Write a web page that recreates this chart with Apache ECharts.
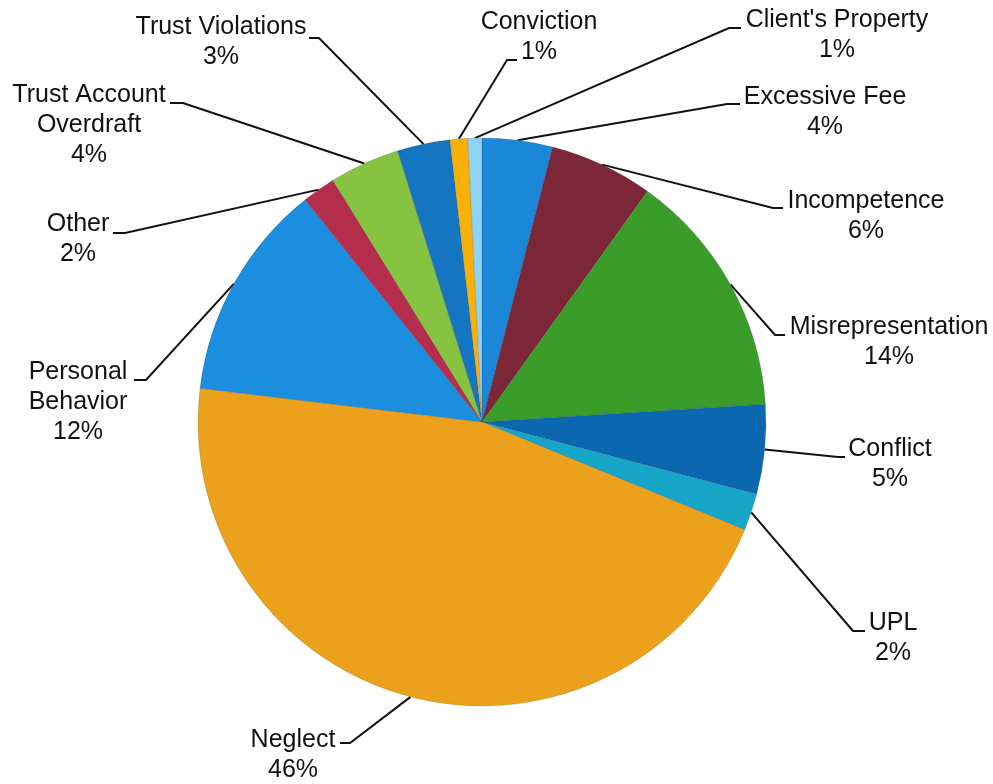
<!DOCTYPE html>
<html>
<head>
<meta charset="utf-8">
<script src="https://cdn.jsdelivr.net/npm/echarts@6/dist/echarts.min.js"></script>
<style>
html,body{margin:0;padding:0;background:#fff;}
#chart{width:993px;height:784px;}
</style>
</head>
<body>
<div id="chart"></div>
<script>
// Categories in clockwise order starting at 12 o'clock
var categories = ["Excessive Fee", "Incompetence", "Misrepresentation", "Conflict", "UPL", "Neglect",
  "Personal Behavior", "Other", "Trust Account Overdraft", "Trust Violations", "Conviction", "Client's Property"];
// Share of complaints (percent)
var shares = [4.0, 5.9, 14.1, 5.1, 2.1, 45.7, 12.4, 1.9, 4.0, 3.0, 1.0, 0.8];
// Label text lines as displayed
var labelNames = ["Excessive Fee", "Incompetence", "Misrepresentation", "Conflict", "UPL", "Neglect",
  "Personal\nBehavior", "Other", "Trust Account\nOverdraft", "Trust Violations", "Conviction", "Client's Property"];
var colors = ["#1a87d8", "#7b2738", "#3a9d2a", "#0b68b0", "#17a5c8", "#eba11b",
  "#1b8ee0", "#b52d4c", "#86c340", "#1476c2", "#f9b10a", "#8fd3f3"];

// Label layout: block centre (cx, cy) and leader-line end (ex, ey) with elbow offset (dx)
var labelLayoutSpec = [
  {cx: 825, cy: 112, ex: 740, ey: 104, dx: -13},
  {cx: 866, cy: 216, ex: 783, ey: 208, dx: -10},
  {cx: 889, cy: 342, ex: 785, ey: 335, dx: -10},
  {cx: 890, cy: 464, ex: 845, ey: 457, dx: -7},
  {cx: 893, cy: 638, ex: 865, ey: 631, dx: -12},
  {cx: 293, cy: 755, ex: 340, ey: 743, dx: 10},
  {cx: 78,  cy: 402, ex: 134, ey: 380, dx: 12},
  {cx: 78,  cy: 239, ex: 113, ey: 233, dx: 12},
  {cx: 89,  cy: 125, ex: 170, ey: 103, dx: 13},
  {cx: 221, cy: 42,  ex: 309, ey: 38,  dx: 10},
  {cx: 539, cy: 37,  ex: 517, ey: 60,  dx: -10},
  {cx: 837, cy: 35,  ex: 741, ey: 28,  dx: -12}
];

var data = categories.map(function (c, i) {
  return {name: c, value: shares[i], itemStyle: {color: colors[i]}};
});

var chart = echarts.init(document.getElementById('chart'), null, {renderer: 'canvas'});
chart.setOption({
  backgroundColor: '#ffffff',
  animation: false,
  series: [{
    type: 'pie',
    center: [482, 422],
    radius: 284,
    startAngle: 90,
    clockwise: true,
    avoidLabelOverlap: false,
    data: data,
    itemStyle: {borderColor: 'rgba(40,40,40,0.3)', borderWidth: 0.5},
    label: {
      show: true,
      position: 'outside',
      color: '#111',
      fontFamily: '"Liberation Sans", Arial, sans-serif',
      fontSize: 25,
      lineHeight: 30,
      formatter: function (p) {
        return labelNames[p.dataIndex] + '\n' + Math.round(p.percent) + '%';
      }
    },
    labelLine: {
      show: true,
      length: 20,
      length2: 20,
      smooth: false,
      lineStyle: {color: '#111', width: 2}
    },
    labelLayout: function (params) {
      var s = labelLayoutSpec[params.dataIndex];
      var pts = params.labelLinePoints;
      var start = pts && pts[0] ? pts[0] : [482, 422];
      return {
        x: s.cx,
        y: s.cy,
        align: 'center',
        verticalAlign: 'middle',
        labelLinePoints: [start, [s.ex + s.dx, s.ey], [s.ex, s.ey]]
      };
    }
  }]
});
</script>
</body>
</html>
